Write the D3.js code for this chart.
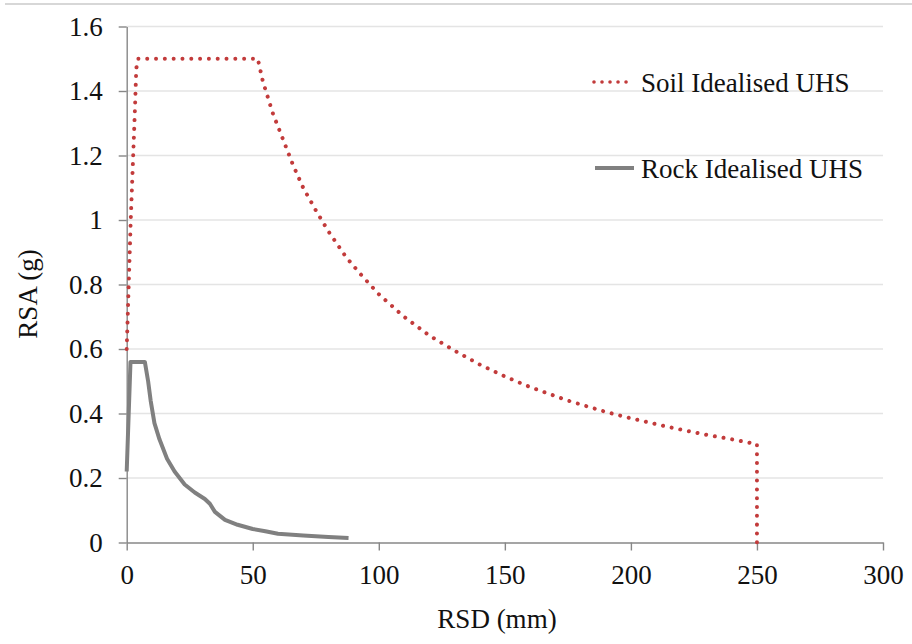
<!DOCTYPE html>
<html>
<head>
<meta charset="utf-8">
<script src="https://cdn.jsdelivr.net/npm/d3@7"></script>
</head>
<body style="margin:0">
<svg id="chart" width="912" height="644" font-family="Liberation Serif">
</svg>
<script>
// Spectral displacement (mm) vs spectral acceleration (g)
const soilRSD = [0, 1.6, 3.3, 3.8, 4.6, 52, 54, 58, 62, 66, 70, 75, 80, 87, 93, 100, 110, 120, 130, 140, 150, 160, 175, 190, 200, 215, 230, 240, 250, 250];
const soilRSA = [0.6, 1.0, 1.35, 1.47, 1.5, 1.5, 1.43, 1.33, 1.25, 1.17, 1.1, 1.03, 0.965, 0.885, 0.83, 0.77, 0.7, 0.642, 0.595, 0.552, 0.515, 0.482, 0.44, 0.405, 0.385, 0.358, 0.334, 0.32, 0.305, 0];

const rockRSD = [0, 1.5, 7.2, 8.5, 9.5, 11, 13, 16, 19, 23, 27, 31, 33, 35, 39, 44, 50, 55, 60, 70, 80, 88];
const rockRSA = [0.22, 0.56, 0.56, 0.5, 0.44, 0.37, 0.32, 0.26, 0.22, 0.18, 0.155, 0.135, 0.12, 0.095, 0.07, 0.055, 0.042, 0.035, 0.027, 0.022, 0.017, 0.014];

const xTicks = [0, 50, 100, 150, 200, 250, 300];
const xTickLabels = ["0", "50", "100", "150", "200", "250", "300"];
const yTicks = [0, 0.2, 0.4, 0.6, 0.8, 1.0, 1.2, 1.4, 1.6];
const yTickLabels = ["0", "0.2", "0.4", "0.6", "0.8", "1", "1.2", "1.4", "1.6"];

const seriesNames = ["Soil Idealised UHS", "Rock Idealised UHS"];

const svg = d3.select("#chart");
const FONT_FAMILY = "'Liberation Serif', 'Times New Roman', serif";
const FONT = 27;
const textColor = "#111";
const axisColor = "#878787";
const gridColor = "#e4e4e4";
const soilColor = "#c23b3b";
const rockColor = "#808080";

// serif face applied to every label
function serif(sel) {
  return sel
    .attr("font-size", FONT)
    .attr("fill", textColor)
    .style("font-family", FONT_FAMILY, "important")
    .style("font-size", FONT + "px", "important");
}

const x = d3.scaleLinear().domain([0, 300]).range([126.7, 883]);
const y = d3.scaleLinear().domain([0, 1.6]).range([542.5, 26.5]);

// frame line along the top edge
svg.append("line")
  .attr("x1", 5).attr("x2", 912).attr("y1", 4).attr("y2", 4)
  .attr("stroke", "#cacaca").attr("stroke-width", 1.5);

// horizontal gridlines
svg.append("g").selectAll("line")
  .data(yTicks.filter(d => d > 0))
  .join("line")
  .attr("x1", x(0)).attr("x2", x(300))
  .attr("y1", d => y(d)).attr("y2", d => y(d))
  .attr("stroke", gridColor).attr("stroke-width", 1.3);

// axes
const xAxis = d3.axisBottom(x).tickValues(xTicks)
  .tickFormat((d, i) => xTickLabels[i]).tickSize(8).tickSizeOuter(0).tickPadding(14);
const yAxis = d3.axisLeft(y).tickValues(yTicks)
  .tickFormat((d, i) => yTickLabels[i]).tickSize(8).tickSizeOuter(0).tickPadding(16);

const gx = svg.append("g").attr("transform", `translate(0,${y(0)})`).call(xAxis);
const gy = svg.append("g").attr("transform", `translate(${x(0)},0)`).call(yAxis);

[gx, gy].forEach(g => {
  g.attr("font-family", FONT_FAMILY).attr("font-size", FONT);
  g.select(".domain").attr("stroke", axisColor).attr("stroke-width", 1.4);
  g.selectAll(".tick line").attr("stroke", axisColor).attr("stroke-width", 1.4);
  serif(g.selectAll(".tick text"));
});

// axis titles
serif(svg.append("text")
  .attr("x", 497).attr("y", 628)
  .attr("text-anchor", "middle"))
  .text("RSD (mm)");
serif(svg.append("text")
  .attr("transform", "translate(37,294) rotate(-90)")
  .attr("text-anchor", "middle"))
  .text("RSA (g)");

const line = d3.line().x(d => x(d[0])).y(d => y(d[1]));

const soil = soilRSD.map((v, i) => [v, soilRSA[i]]);
const rock = rockRSD.map((v, i) => [v, rockRSA[i]]);

// rock spectrum: solid grey
svg.append("path")
  .datum(rock)
  .attr("d", line)
  .attr("fill", "none")
  .attr("stroke", rockColor)
  .attr("stroke-width", 4)
  .attr("stroke-linejoin", "round");

// soil spectrum: round dots
svg.append("path")
  .datum(soil)
  .attr("d", line)
  .attr("fill", "none")
  .attr("stroke", soilColor)
  .attr("stroke-width", 4)
  .attr("stroke-linecap", "round")
  .attr("stroke-dasharray", "0.01 8.8");

// legend
const legend = svg.append("g");
const legendRows = [
  { name: seriesNames[0], y: 82, color: soilColor, dash: "0.01 8", width: 3.6, x1: 594, x2: 634 },
  { name: seriesNames[1], y: 168, color: rockColor, dash: null, width: 4, x1: 595, x2: 634 }
];
legendRows.forEach(r => {
  legend.append("line")
    .attr("x1", r.x1).attr("x2", r.x2).attr("y1", r.y).attr("y2", r.y)
    .attr("stroke", r.color).attr("stroke-width", r.width)
    .attr("stroke-linecap", r.dash ? "round" : "butt")
    .attr("stroke-dasharray", r.dash);
  serif(legend.append("text")
    .attr("x", 641).attr("y", r.y + 9.5))
    .text(r.name);
});
</script>
</body>
</html>
